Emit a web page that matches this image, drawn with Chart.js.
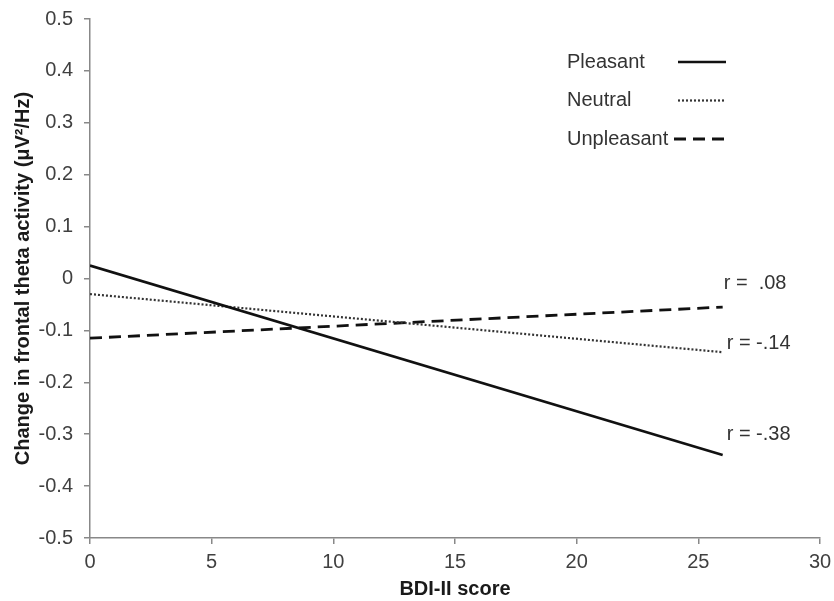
<!DOCTYPE html>
<html>
<head>
<meta charset="utf-8">
<script src="https://cdn.jsdelivr.net/npm/chart.js@4.4.1/dist/chart.umd.min.js"></script>
<style>
  html, body { margin: 0; padding: 0; background: #fff; }
  #wrap { width: 834px; height: 601px; position: relative; }
</style>
</head>
<body>
<div id="wrap"><canvas id="thetaChart"></canvas></div>
<script>
// BDI-II score range covered by the regression lines
const bdiRange = [0, 26];

// fitted change in frontal theta at each end of the range
const pleasantFit = [0.025, -0.34];
const neutralFit = [-0.03, -0.142];
const unpleasantFit = [-0.115, -0.055];

const seriesNames = ['Pleasant', 'Neutral', 'Unpleasant'];
const corrLabels = ['r = -.38', 'r = -.14', 'r =  .08'];

const xTicks = [0, 5, 10, 15, 20, 25, 30];
const yTicks = [-0.5, -0.4, -0.3, -0.2, -0.1, 0, 0.1, 0.2, 0.3, 0.4, 0.5];

const toPoints = fit => bdiRange.map((x, i) => ({ x: x, y: fit[i] }));

const lineStyles = [
    { color: '#111', width: 2.6, dash: [] },
    { color: '#333', width: 2.2, dash: [2, 2] },
    { color: '#111', width: 2.8, dash: [12, 7] }
];

// label offsets from the right end of each line
const corrOffsets = [[4, -20], [4, -9], [1, -24]];

const font = '"Liberation Sans", Arial, sans-serif';

const annotations = {
    id: 'annotations',
    afterDatasetsDraw(chart) {
        const ctx = chart.ctx;
        ctx.save();
        ctx.font = '20px ' + font;
        ctx.fillStyle = '#333';
        ctx.textBaseline = 'middle';
        ctx.textAlign = 'left';

        // correlation labels at the line ends
        chart.data.datasets.forEach((ds, i) => {
            const meta = chart.getDatasetMeta(i);
            const last = meta.data[meta.data.length - 1];
            ctx.fillText(corrLabels[i], last.x + corrOffsets[i][0], last.y + corrOffsets[i][1]);
        });

        // legend block, top right
        const lx = 567, ly = 62, gap = 38.5;
        seriesNames.forEach((name, i) => {
            const y = ly + i * gap;
            ctx.fillStyle = '#333';
            ctx.fillText(name, lx, y);
            const st = lineStyles[i];
            ctx.beginPath();
            ctx.strokeStyle = st.color;
            ctx.lineWidth = st.width;
            ctx.setLineDash(st.dash);
            ctx.moveTo(i === 2 ? 674 : 678, y);
            ctx.lineTo(726, y);
            ctx.stroke();
        });
        ctx.restore();
    }
};

new Chart(document.getElementById('thetaChart'), {
    type: 'line',
    data: {
        datasets: [pleasantFit, neutralFit, unpleasantFit].map((fit, i) => ({
            label: seriesNames[i],
            data: toPoints(fit),
            borderColor: lineStyles[i].color,
            borderWidth: lineStyles[i].width,
            borderDash: lineStyles[i].dash,
            pointRadius: 0,
            fill: false,
            tension: 0
        }))
    },
    options: {
        responsive: true,
        maintainAspectRatio: false,
        animation: false,
        layout: { padding: { top: 19, right: 14, left: 0, bottom: 0 } },
        plugins: {
            legend: { display: false },
            tooltip: { enabled: false }
        },
        scales: {
            x: {
                type: 'linear',
                min: 0,
                max: 30,
                afterFit: s => { s.height = 63; s.paddingLeft = 0; s.paddingRight = 0; },
                afterBuildTicks: s => { s.ticks = xTicks.map(v => ({ value: v })); },
                border: { color: '#888', width: 1.5 },
                grid: { drawOnChartArea: false, drawTicks: true, tickLength: 6, color: '#888', lineWidth: 1.5 },
                ticks: { color: '#404040', font: { family: font, size: 20 }, padding: 6, maxRotation: 0 },
                title: {
                    display: true,
                    text: 'BDI-II score',
                    color: '#1a1a1a',
                    font: { family: font, size: 20, weight: 'bold' },
                    padding: { top: 0, bottom: 0 }
                }
            },
            y: {
                min: -0.5,
                max: 0.5,
                afterFit: s => { s.width = 90; s.paddingTop = 0; s.paddingBottom = 0; },
                afterBuildTicks: s => { s.ticks = yTicks.map(v => ({ value: v })); },
                border: { color: '#888', width: 1.5 },
                grid: { drawOnChartArea: false, drawTicks: true, tickLength: 6, color: '#888', lineWidth: 1.5 },
                ticks: {
                    color: '#404040',
                    font: { family: font, size: 20 },
                    padding: 11,
                    callback: v => (Math.abs(v) < 1e-9 ? '0' : String(Math.round(v * 10) / 10))
                },
                title: {
                    display: true,
                    text: 'Change in frontal theta activity (μV²/Hz)',
                    color: '#1a1a1a',
                    font: { family: font, size: 20, weight: 'bold' },
                    padding: { top: 11, bottom: 0 }
                }
            }
        }
    },
    plugins: [annotations]
});
</script>
</body>
</html>
